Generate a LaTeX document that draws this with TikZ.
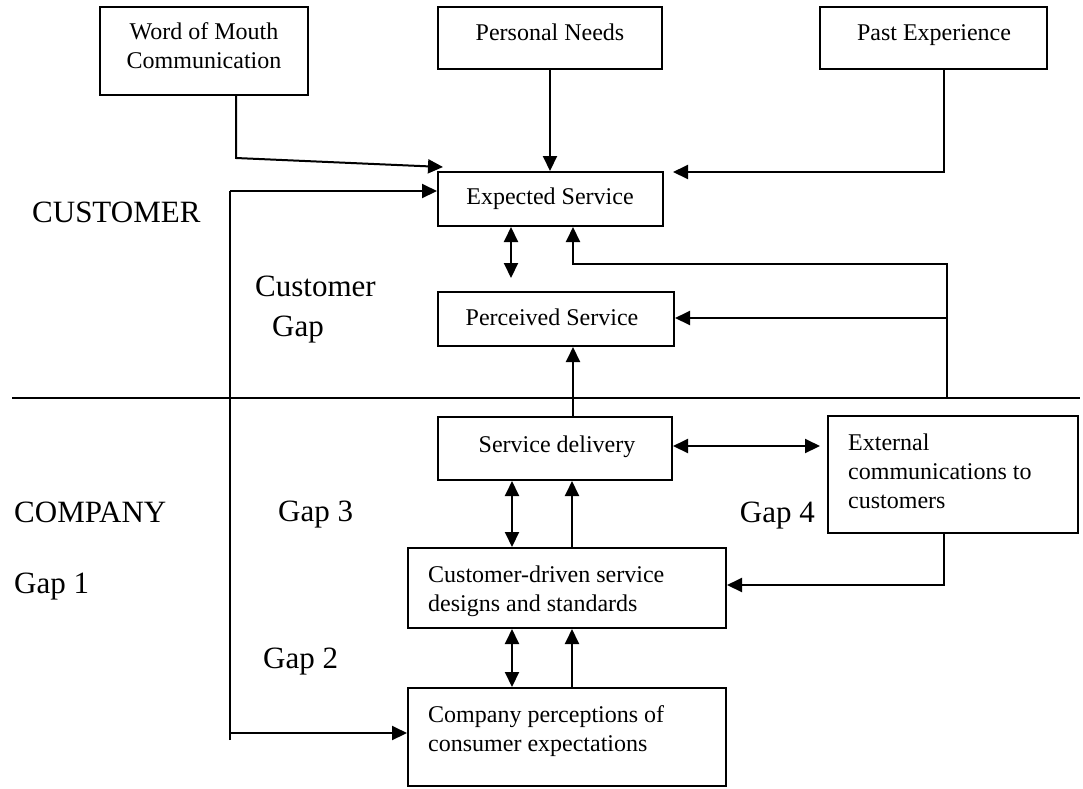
\documentclass[tikz,border=0pt]{standalone}
\usepackage{fontspec}
\setmainfont{Liberation Serif}
\usetikzlibrary{arrows.meta,calc}
\begin{document}
\begin{tikzpicture}[x=1pt,y=-1pt,
  box/.style={draw, line width=2pt, inner sep=0pt},
  txt/.style={inner sep=0pt, font=\fontsize{24}{29}\selectfont},
  big/.style={inner sep=0pt, font=\fontsize{31}{40}\selectfont},
  ln/.style={line width=2pt},
  arr/.style={ln, -{Triangle[length=15pt,width=14pt]}},
  darr/.style={ln, {Triangle[length=15pt,width=14pt]}-{Triangle[length=15pt,width=14pt]}},
]
\useasboundingbox[fill=white] (0,0) rectangle (1083,788);

% boxes
\node[box, minimum width=208pt, minimum height=88pt] (wom) at (204,51) {};
\node[box, minimum width=224pt, minimum height=62pt] (pn) at (550,38) {};
\node[box, minimum width=227pt, minimum height=62pt] (past) at (933.5,38) {};
\node[box, minimum width=225pt, minimum height=54pt] (exp) at (550.5,199) {};
\node[box, minimum width=236pt, minimum height=54pt] (perc) at (556,319) {};
\node[box, minimum width=234pt, minimum height=63pt] (sd) at (555,448.5) {};
\node[box, minimum width=250pt, minimum height=117pt] (ext) at (953,474.5) {};
\node[box, minimum width=318pt, minimum height=80pt] (cd) at (567,588) {};
\node[box, minimum width=318pt, minimum height=98pt] (cp) at (567,737) {};

% box texts
\node[txt, align=center, anchor=north] (womt) at (204,22) {Word of Mouth\\Communication};
\node[txt, anchor=base] (pnt) at (550,40) {Personal Needs};
\node[txt, anchor=base] (pastt) at (934,40) {Past Experience};
\node[txt, anchor=base] (expt) at (550,204) {Expected Service};
\node[txt, anchor=base] (perct) at (552,325) {Perceived Service};
\node[txt, anchor=base] (sdt) at (557,452) {Service delivery};
\node[txt, align=left, anchor=north west] (extt) at (848,433.6) {External\\communications to\\customers};
\node[txt, align=left, anchor=north west] (cdt) at (428,565.6) {Customer-driven service\\designs and standards};
\node[txt, align=left, anchor=north west] (cpt) at (428,705.6) {Company perceptions of\\consumer expectations};

% side labels
\node[big, anchor=base west] (lcust) at (32,222) {CUSTOMER};
\node[big, align=left, anchor=north west] (lcgap) at (255,276) {Customer\\\hspace*{17pt}Gap};
\node[big, anchor=base west] (lcomp) at (14,522) {COMPANY};
\node[big, anchor=base west] (lgap1) at (14,593) {Gap 1};
\node[big, anchor=base west] (lgap3) at (278,521) {Gap 3};
\node[big, anchor=base west] (lgap2) at (263,668) {Gap 2};
\node[big, anchor=base east] (lgap4) at (815,522) {Gap 4};

% helper coordinates
\coordinate (w1) at (236,158);
\coordinate (w2) at (443,167);
\coordinate (p1) at (944,172);
\coordinate (p2) at (673,172);
\coordinate (g1a) at (230,191);
\coordinate (g1b) at (230,740);
\coordinate (g1c) at (230,733);
\coordinate (d1) at (511,278);
\coordinate (r1) at (573,264);
\coordinate (r2) at (947,264);
\coordinate (r3) at (947,397);
\coordinate (r4) at (947,318);
\coordinate (s1) at (12,398);
\coordinate (s2) at (1080,398);
\coordinate (e1) at (820,446);
\coordinate (x1) at (512,0);
\coordinate (x2) at (572,0);
\coordinate (c1) at (944,585);

% connectors
\draw[arr] (wom.south -| w1) -- (w1) -- (w2);
\draw[arr] (pn.south) -- (pn.south |- exp.north);
\draw[arr] (past.south -| p1) -- (p1) -- (p2);
\draw[ln] (g1b) -- (g1a);
\draw[arr] (g1a) -- (exp.west |- g1a);
\draw[arr] (g1c) -- (cp.west |- g1c);
\draw[darr] (exp.south -| d1) -- (d1);
\draw[arr] (r3) -- (r2) -- (r1) -- (exp.south -| r1);
\draw[arr] (r4) -- (perc.east |- r4);
\draw[arr] (sd.north -| r1) -- (perc.south -| r1);
\draw[line width=1.5pt] (s1) -- (s2);
\draw[darr] (sd.east |- e1) -- (e1);
\draw[darr] (sd.south -| x1) -- (cd.north -| x1);
\draw[arr] (cd.north -| x2) -- (sd.south -| x2);
\draw[darr] (cd.south -| x1) -- (cp.north -| x1);
\draw[arr] (cp.north -| x2) -- (cd.south -| x2);
\draw[arr] (ext.south -| c1) -- (c1) -- (cd.east |- c1);
\end{tikzpicture}
\end{document}
